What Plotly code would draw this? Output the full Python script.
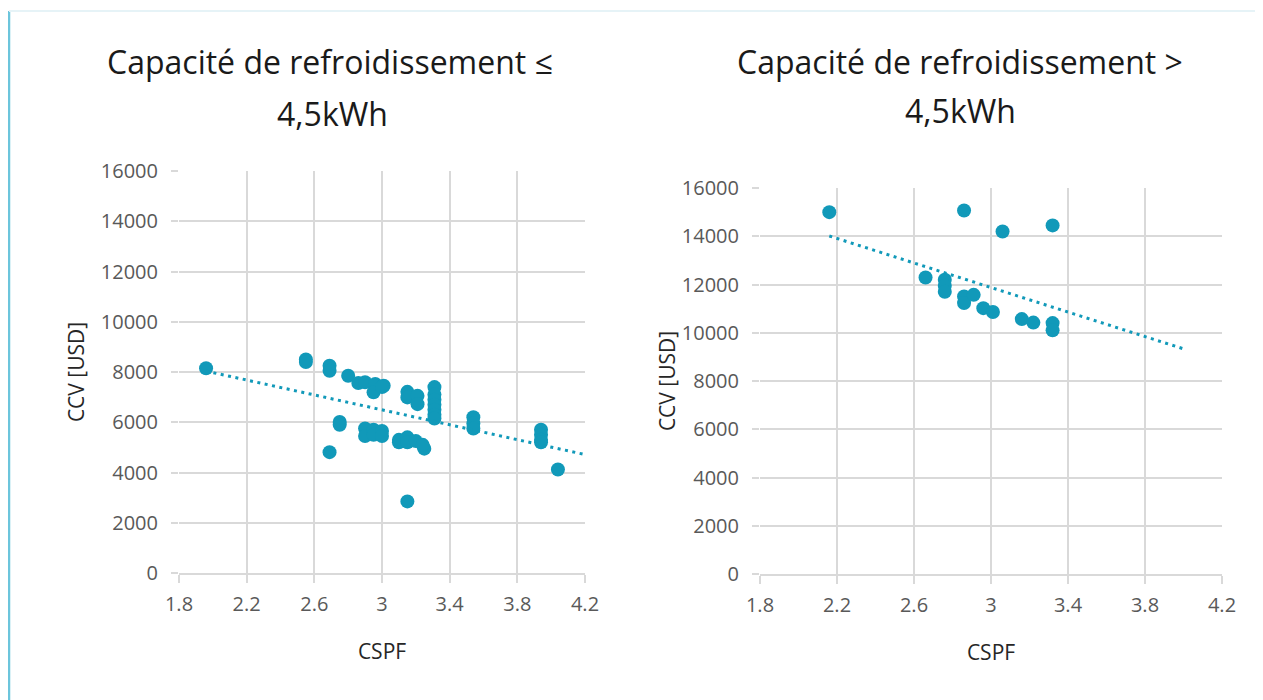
import numpy as np
import plotly.graph_objects as go

# ---------------- data ----------------
left_cspf = [1.96, 2.55, 2.55, 2.69, 2.69, 2.80, 2.86, 2.90, 2.96, 3.01, 2.95, 3.00,
             3.15, 3.15, 3.21, 3.21,
             3.31, 3.31, 3.31, 3.31, 3.31, 3.31, 3.31,
             3.54, 3.54, 3.54,
             3.94, 3.94, 3.94, 3.94,
             4.04, 2.75, 2.75, 2.69,
             2.90, 2.90, 2.95, 2.95, 3.00, 3.00,
             3.10, 3.10, 3.15, 3.15, 3.20, 3.25, 3.24,
             3.15]
left_ccv = [8150, 8500, 8400, 8250, 8050, 7850, 7560, 7590, 7520, 7450, 7190, 7400,
            7210, 6990, 7050, 6720,
            7400, 7100, 6900, 6700, 6500, 6300, 6150,
            6200, 5950, 5750,
            5700, 5500, 5300, 5200,
            4120, 6010, 5900, 4810,
            5750, 5450, 5700, 5500, 5650, 5450,
            5300, 5200, 5400, 5200, 5250, 4950, 5100,
            2850]

right_cspf = [2.16, 2.86, 3.06, 3.32, 2.66, 2.76, 2.76, 2.76, 2.86, 2.86, 2.91,
              2.96, 3.01, 3.16, 3.22, 3.32, 3.32]
right_ccv = [15000, 15070, 14200, 14450, 12290, 12200, 11950, 11700, 11500, 11230, 11570,
             11020, 10860, 10565, 10420, 10400, 10100]

titles_left = ["Capacité de refroidissement ≤", "4,5kWh"]
titles_right = ["Capacité de refroidissement >", "4,5kWh"]
x_title = "CSPF"
y_title = "CCV [USD]"
trend_end = [4.2, 4.0]   # x where each linear trendline ends

# ---------------- style / layout geometry (pixels) ----------------
COLOR = "#1199b9"
GRID = "#d9d9d9"
FONT = "Open Sans"
W, H = 1263, 700
OFF = 8                                  # page body margin compensation
PL, PR, PT, PB = 179 - OFF, 1222 - OFF, 171 - OFF, 574 - OFF   # paper area in figure px
PW, PH = PR - PL, PB - PT

def px_x(p):
    return (p - OFF - PL) / PW

def px_y(p):
    return (PB - (p - OFF)) / PH

fig = go.Figure()

def add_panel(xs, ys, xaxis, yaxis, x_end):
    fig.add_trace(go.Scatter(x=xs, y=ys, mode="markers", xaxis=xaxis, yaxis=yaxis,
                             marker=dict(color=COLOR, size=14), showlegend=False))
    slope, icpt = np.polyfit(xs, ys, 1)
    tx = np.array([min(xs), x_end])
    fig.add_trace(go.Scatter(x=tx, y=slope * tx + icpt, mode="lines", xaxis=xaxis, yaxis=yaxis,
                             line=dict(color=COLOR, width=3, dash="3px,4.5px"), showlegend=False))

add_panel(left_cspf, left_ccv, "x", "y", trend_end[0])
add_panel(right_cspf, right_ccv, "x2", "y2", trend_end[1])

def xax(domain, anchor):
    return dict(domain=domain, anchor=anchor, range=[1.8, 4.2], dtick=0.4, tick0=1.8,
                automargin=False,
                showgrid=True, gridcolor=GRID, gridwidth=1.5, zeroline=False,
                showline=True, linecolor=GRID, linewidth=2,
                ticks="outside", ticklen=8, tickcolor=GRID, tickwidth=1.5,
                ticklabelstandoff=4,
                tickfont=dict(family=FONT, size=20, color="#595959"),
                title=dict(text=x_title, font=dict(family=FONT, size=21, color="#262626"), standoff=28))

def yax(domain, anchor, standoff):
    return dict(domain=domain, anchor=anchor, range=[0, 16000], dtick=2000, tickformat="d",
                automargin=False,
                showgrid=True, gridcolor=GRID, gridwidth=1.5, zeroline=False,
                showline=False,
                ticks="outside", ticklen=7, tickcolor=GRID, tickwidth=1.5,
                ticklabelstandoff=9,
                tickfont=dict(family=FONT, size=20, color="#595959"),
                title=dict(text=y_title, font=dict(family=FONT, size=21, color="#262626"), standoff=standoff))

fig.update_layout(
    width=W, height=H,
    margin=dict(l=PL, r=W - PR, t=PT, b=H - PB, autoexpand=False),
    paper_bgcolor="white", plot_bgcolor="white",
    xaxis=xax([px_x(179), px_x(585)], "y"),
    yaxis=yax([px_y(573), px_y(171)], "x", 10),
    xaxis2=xax([px_x(760), px_x(1222)], "y2"),
    yaxis2=yax([px_y(574), px_y(188)], "x2", 0),
)

ann = []
for text, xc, yc in [(titles_left[0], 330, 61), (titles_left[1], 332, 113),
                     (titles_right[0], 960, 61), (titles_right[1], 960, 111)]:
    ann.append(dict(text=text, x=px_x(xc), y=px_y(yc), xref="paper", yref="paper",
                    xanchor="center", yanchor="middle", showarrow=False,
                    font=dict(family=FONT, size=32, color="#1a1a1a")))
fig.update_layout(annotations=ann)

fig.add_shape(type="line", xref="paper", yref="paper", x0=px_x(9), x1=px_x(9), y0=px_y(H + OFF), y1=px_y(11),
              line=dict(color="#6cc5dc", width=2.5))
fig.add_shape(type="line", xref="paper", yref="paper", x0=px_x(9), x1=px_x(W + OFF), y0=px_y(11), y1=px_y(11),
              line=dict(color="#e6f3f7", width=2))

fig.write_html("out.html")
